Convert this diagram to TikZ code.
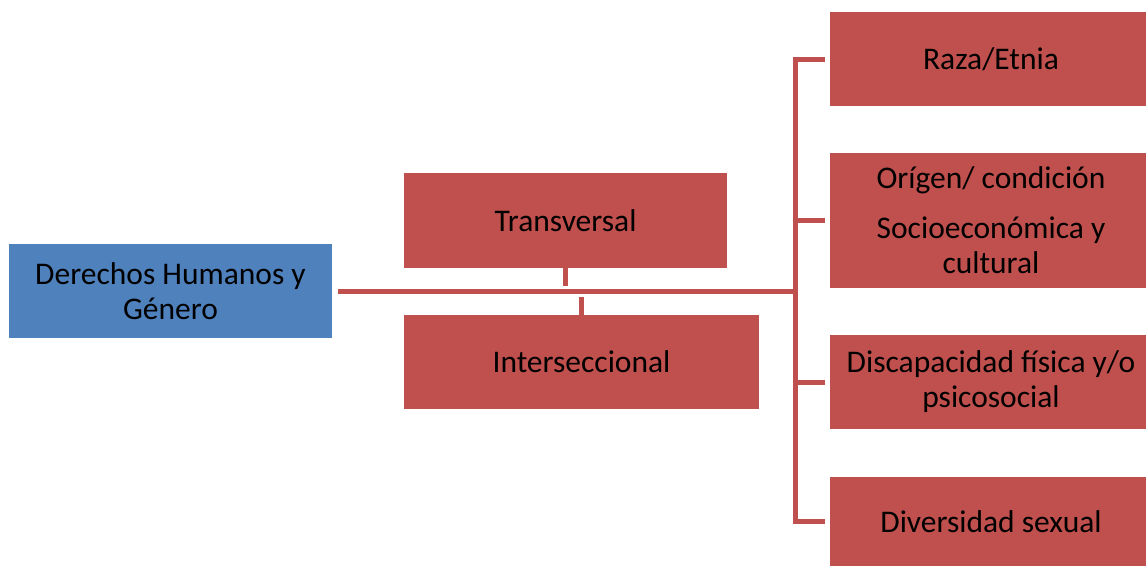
\documentclass[tikz,border=0pt]{standalone}
\usepackage{fontspec}
\setmainfont{Carlito}
\definecolor{boxred}{HTML}{C0504D}
\definecolor{boxblue}{HTML}{4F81BD}
\begin{document}
\begin{tikzpicture}[x=1pt,y=-1pt,
  box/.style={rectangle, fill=boxred, draw=none, inner sep=0pt, align=center,
    font=\fontsize{31.5}{35}\selectfont, text=black},
  blue box/.style={box, fill=boxblue},
  link/.style={draw=boxred, line width=5pt}]
\useasboundingbox (0,0) rectangle (1146,566);
% nodes
\node[blue box, minimum width=323pt, minimum height=94pt] (dh) at (170.5,291) {Derechos Humanos y\\Género};
\node[box, minimum width=323pt, minimum height=95pt] (tr) at (565.5,220.5) {Transversal};
\node[box, minimum width=355pt, minimum height=94pt] (is) at (581.5,362) {Interseccional};
\node[box, minimum width=322pt, minimum height=94pt] (r1) at (991,59) {Raza/Etnia};
\node[box, minimum width=322pt, minimum height=135pt] (r2) at (991,220.5) {Orígen/ condición\\[15pt]Socioeconómica y\\cultural};
\node[box, minimum width=322pt, minimum height=94pt] (r3) at (991,382) {Discapacidad física y/o\\psicosocial};
\node[box, minimum width=322pt, minimum height=89pt] (r4) at (991,521.5) {Diversidad sexual};
% connectors
\coordinate (start) at ([xshift=6pt]dh.east);
\coordinate (br) at (795,291);
\draw[link] (start) -- (br);
\draw[link] ([yshift=5pt]tr.south) -- ([yshift=5pt]tr.south |- br);
\draw[link] ([yshift=-6pt]is.north) -- ([yshift=-6pt]is.north |- br);
\draw[link] ([xshift=-5pt]r1.west) -| (br |- r4.west) -- ([xshift=-5pt]r4.west);
\draw[link] ([xshift=-5pt]r2.west) -- (br |- r2.west);
\draw[link] ([xshift=-5pt]r3.west) -- (br |- r3.west);
\end{tikzpicture}
\end{document}
